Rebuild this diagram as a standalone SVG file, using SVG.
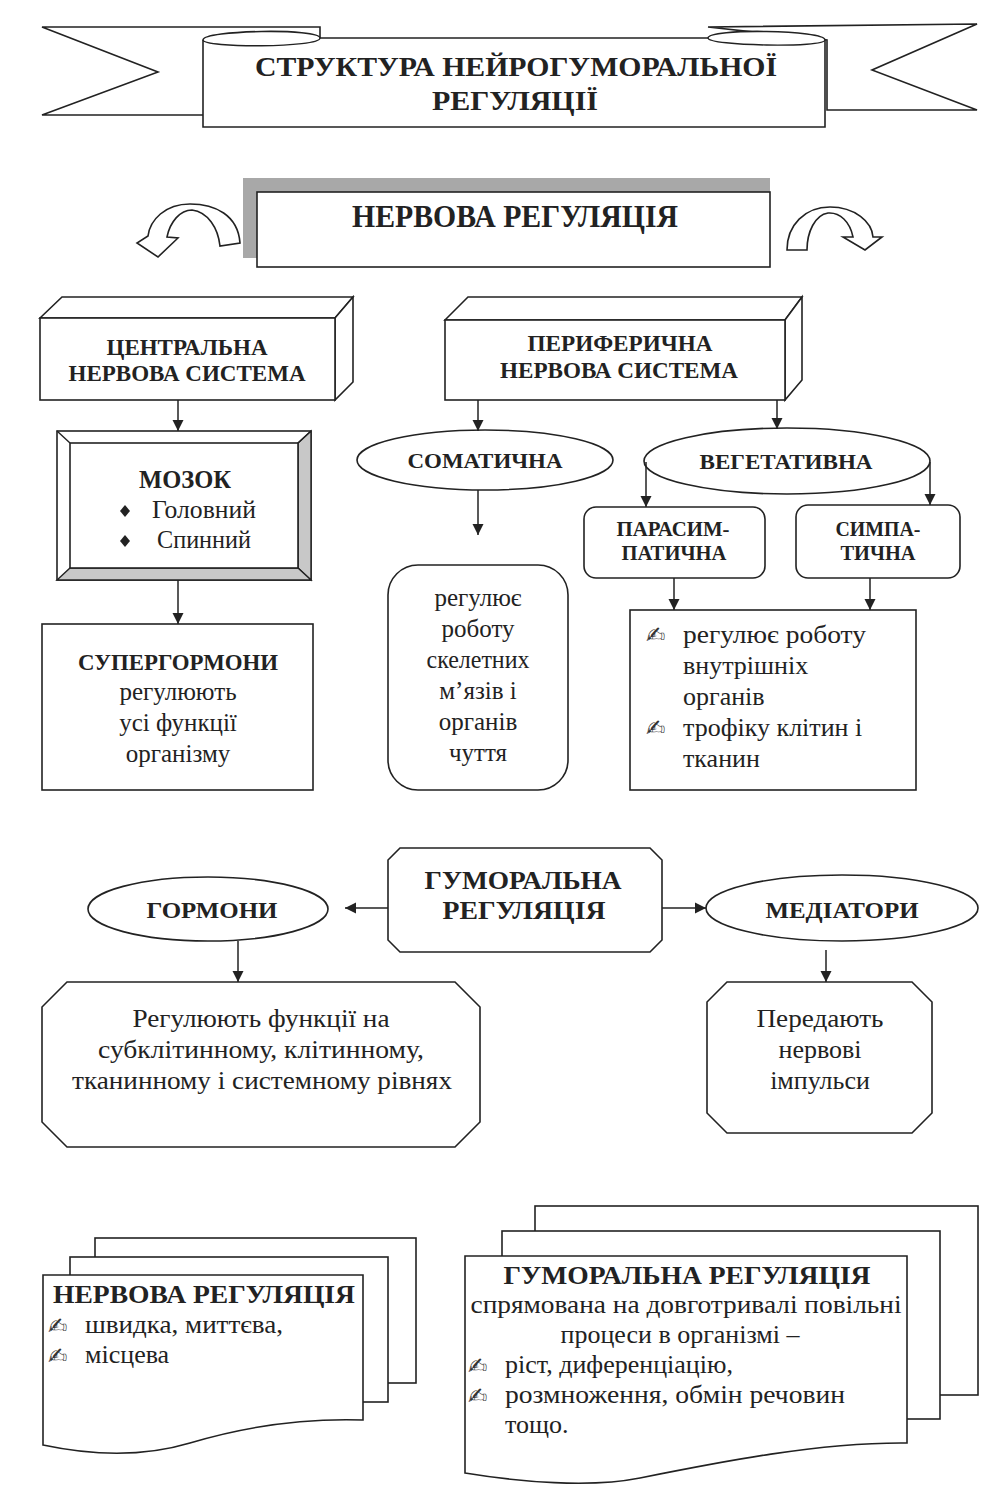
<svg xmlns="http://www.w3.org/2000/svg" width="1000" height="1497" viewBox="0 0 1000 1497">
<defs>
<style>
.s{fill:#fff;stroke:#222;stroke-width:1.6}
.g{fill:#c8c8c8;stroke:#222;stroke-width:1.4}
.t{font-family:"Liberation Serif","Times New Roman",serif;fill:#222}
.b{font-weight:bold}
.c{text-anchor:middle}
.h{font-family:"DejaVu Sans",sans-serif;fill:#333;font-size:23px}
.ln{stroke:#222;stroke-width:1.5;fill:none;marker-end:url(#ah)}
</style>
<marker id="ah" viewBox="0 0 10 10" markerUnits="userSpaceOnUse" markerWidth="11" markerHeight="13" refX="10" refY="5" orient="auto">
<path d="M0,0 L10,5 L0,10 z" fill="#222"/>
</marker>
</defs>
<rect width="1000" height="1497" fill="#fff"/>

<g id="title">
<path class="s" d="M42,27 L320,27 L320,115 L42,115 L158,72 Z"/>
<path class="s" d="M708,27 L977,24 L872,70 L977,110 L827,110 L827,40 Z"/>
<path class="s" d="M203,40 C203,30 320,28 320,38 L708,38 C708,28 825,30 825,40 L825,127 L203,127 Z"/>
<path d="M203,40 C203,48 320,48 320,38 M708,38 C708,46 825,48 825,40" fill="none" stroke="#222" stroke-width="1.4"/>
<text class="t b c" x="516" y="76" font-size="28" textLength="522" lengthAdjust="spacingAndGlyphs">СТРУКТУРА НЕЙРОГУМОРАЛЬНОЇ</text>
<text class="t b c" x="515" y="110" font-size="28" textLength="166" lengthAdjust="spacingAndGlyphs">РЕГУЛЯЦІЇ</text>
</g>

<g id="nervova">
<path d="M243,178 L770,178 L770,192 L257,192 L257,258 L243,258 Z" fill="#a8a8a8"/>
<rect class="s" x="257" y="192" width="513" height="75"/>
<text class="t b c" x="515" y="227" font-size="31" textLength="326" lengthAdjust="spacingAndGlyphs">НЕРВОВА РЕГУЛЯЦІЯ</text>
</g>

<g id="arrow-left">
<path class="s" d="M240,243 C238,215 215,204 190,204 C165,204 150,220 148,236 L137,243 L158,257 L178,238 L167,237 C170,222 180,210 192,210 C208,212 218,228 220,246 Z"/>
</g>
<g id="arrow-right">
<path class="s" d="M787,250 C787,225 805,207 830,207 C855,207 872,222 873,237 L882,237 L865,250 L843,237 L853,237 C850,222 840,212 828,213 C815,215 807,232 807,250 Z"/>
</g>

<g id="cns">
<path class="s" d="M40,318 L62,297 L353,297 L335,318 Z"/>
<path class="s" d="M335,318 L353,297 L353,382 L335,400 Z"/>
<rect class="s" x="40" y="318" width="295" height="82"/>
<text class="t b c" x="187" y="355" font-size="23" textLength="161" lengthAdjust="spacingAndGlyphs">ЦЕНТРАЛЬНА</text>
<text class="t b c" x="187" y="381" font-size="23" textLength="237" lengthAdjust="spacingAndGlyphs">НЕРВОВА СИСТЕМА</text>
</g>

<g id="mozok">
<rect class="s" x="57" y="431" width="254" height="149"/>
<path class="g" d="M298,443 L311,431 L311,580 L298,568 Z"/>
<path class="g" d="M70,568 L298,568 L311,580 L57,580 Z"/>
<path d="M57,431 L70,443 M311,431 L298,443" stroke="#222" stroke-width="1.4"/>
<rect class="s" x="70" y="443" width="228" height="125"/>
<text class="t b c" x="185" y="488" font-size="25" textLength="92" lengthAdjust="spacingAndGlyphs">МОЗОК</text>
<path d="M125,505 L130,511 L125,517 L120,511 Z" fill="#222"/>
<text class="t" x="152" y="518" font-size="25" textLength="104" lengthAdjust="spacingAndGlyphs">Головний</text>
<path d="M125,535 L130,541 L125,547 L120,541 Z" fill="#222"/>
<text class="t" x="157" y="548" font-size="25" textLength="94" lengthAdjust="spacingAndGlyphs">Спинний</text>
</g>

<g id="supergormony">
<rect class="s" x="42" y="624" width="271" height="166"/>
<text class="t b c" x="178" y="670" font-size="23" textLength="200" lengthAdjust="spacingAndGlyphs">СУПЕРГОРМОНИ</text>
<text class="t c" x="178" y="700" font-size="25">регулюють</text>
<text class="t c" x="178" y="731" font-size="25">усі функції</text>
<text class="t c" x="178" y="762" font-size="25">організму</text>
</g>

<g id="pns">
<path class="s" d="M445,320 L468,297 L802,297 L785,320 Z"/>
<path class="s" d="M785,320 L802,297 L802,380 L785,400 Z"/>
<rect class="s" x="445" y="320" width="340" height="80"/>
<text class="t b c" x="620" y="351" font-size="23" textLength="185" lengthAdjust="spacingAndGlyphs">ПЕРИФЕРИЧНА</text>
<text class="t b c" x="619" y="378" font-size="23" textLength="238" lengthAdjust="spacingAndGlyphs">НЕРВОВА СИСТЕМА</text>
</g>

<g id="somatychna">
<ellipse class="s" cx="485" cy="460" rx="128" ry="30"/>
<text class="t b c" x="485" y="468" font-size="22" textLength="155" lengthAdjust="spacingAndGlyphs">СОМАТИЧНА</text>
</g>

<g id="vegetatyvna">
<ellipse class="s" cx="787" cy="461" rx="143" ry="33"/>
<text class="t b c" x="786" y="469" font-size="22" textLength="173" lengthAdjust="spacingAndGlyphs">ВЕГЕТАТИВНА</text>
</g>

<g id="soma-box">
<rect class="s" x="388" y="565" width="180" height="225" rx="30"/>
<text class="t c" x="478" y="606" font-size="25">регулює</text>
<text class="t c" x="478" y="637" font-size="25">роботу</text>
<text class="t c" x="478" y="668" font-size="25" textLength="103" lengthAdjust="spacingAndGlyphs">скелетних</text>
<text class="t c" x="478" y="699" font-size="25">м’язів і</text>
<text class="t c" x="478" y="730" font-size="25">органів</text>
<text class="t c" x="478" y="761" font-size="25">чуття</text>
</g>

<g id="parasym">
<rect class="s" x="584" y="507" width="181" height="71" rx="12"/>
<text class="t b c" x="673" y="536" font-size="20" textLength="113" lengthAdjust="spacingAndGlyphs">ПАРАСИМ-</text>
<text class="t b c" x="674" y="560" font-size="20" textLength="105" lengthAdjust="spacingAndGlyphs">ПАТИЧНА</text>
</g>

<g id="sympa">
<rect class="s" x="796" y="505" width="164" height="73" rx="12"/>
<text class="t b c" x="878" y="536" font-size="20" textLength="85" lengthAdjust="spacingAndGlyphs">СИМПА-</text>
<text class="t b c" x="878" y="560" font-size="20" textLength="75" lengthAdjust="spacingAndGlyphs">ТИЧНА</text>
</g>

<g id="veget-box">
<rect class="s" x="630" y="610" width="286" height="180"/>
<text class="h" x="646" y="643">✍</text>
<text class="t" x="683" y="643" font-size="26" textLength="183" lengthAdjust="spacingAndGlyphs">регулює роботу</text>
<text class="t" x="683" y="674" font-size="26">внутрішніх</text>
<text class="t" x="683" y="705" font-size="26">органів</text>
<text class="h" x="646" y="736">✍</text>
<text class="t" x="683" y="736" font-size="26">трофіку клітин і</text>
<text class="t" x="683" y="767" font-size="26">тканин</text>
</g>

<g id="humoral">
<path class="s" d="M400,848 L650,848 L662,860 L662,940 L650,952 L400,952 L388,940 L388,860 Z"/>
<text class="t b c" x="523" y="889" font-size="26" textLength="197" lengthAdjust="spacingAndGlyphs">ГУМОРАЛЬНА</text>
<text class="t b c" x="524" y="919" font-size="26" textLength="163" lengthAdjust="spacingAndGlyphs">РЕГУЛЯЦІЯ</text>
</g>

<g id="gormony">
<ellipse class="s" cx="208" cy="909" rx="120" ry="32"/>
<text class="t b c" x="212" y="918" font-size="24" textLength="131" lengthAdjust="spacingAndGlyphs">ГОРМОНИ</text>
</g>

<g id="mediatory">
<ellipse class="s" cx="842" cy="908" rx="136" ry="33"/>
<text class="t b c" x="842" y="918" font-size="24" textLength="153" lengthAdjust="spacingAndGlyphs">МЕДІАТОРИ</text>
</g>

<g id="gormony-box">
<path class="s" d="M67,982 L455,982 L480,1007 L480,1122 L455,1147 L67,1147 L42,1122 L42,1007 Z"/>
<text class="t c" x="261" y="1027" font-size="26" textLength="257" lengthAdjust="spacingAndGlyphs">Регулюють функції на</text>
<text class="t c" x="261" y="1058" font-size="26" textLength="326" lengthAdjust="spacingAndGlyphs">субклітинному, клітинному,</text>
<text class="t c" x="262" y="1089" font-size="26" textLength="380" lengthAdjust="spacingAndGlyphs">тканинному і системному рівнях</text>
</g>

<g id="mediatory-box">
<path class="s" d="M727,982 L912,982 L932,1002 L932,1113 L912,1133 L727,1133 L707,1113 L707,1002 Z"/>
<text class="t c" x="820" y="1027" font-size="26" textLength="127" lengthAdjust="spacingAndGlyphs">Передають</text>
<text class="t c" x="820" y="1058" font-size="26">нервові</text>
<text class="t c" x="820" y="1089" font-size="26">імпульси</text>
</g>

<g id="nervova-doc">
<rect class="s" x="95" y="1238" width="321" height="145"/>
<rect class="s" x="70" y="1257" width="318" height="145"/>
<path class="s" d="M43,1275 L363,1275 L363,1420 C300,1418 240,1428 190,1443 C140,1458 90,1455 43,1445 Z"/>
<text class="t b c" x="204" y="1303" font-size="26" textLength="302" lengthAdjust="spacingAndGlyphs">НЕРВОВА РЕГУЛЯЦІЯ</text>
<text class="h" x="48" y="1334">✍</text>
<text class="t" x="85" y="1333" font-size="26" textLength="198" lengthAdjust="spacingAndGlyphs">швидка, миттєва,</text>
<text class="h" x="48" y="1364">✍</text>
<text class="t" x="85" y="1363" font-size="26">місцева</text>
</g>

<g id="humoral-doc">
<rect class="s" x="535" y="1206" width="443" height="189"/>
<rect class="s" x="502" y="1231" width="438" height="188"/>
<path class="s" d="M465,1256 L907,1256 L907,1443 C820,1442 720,1462 640,1478 C590,1488 520,1482 465,1473 Z"/>
<text class="t b c" x="687" y="1284" font-size="26" textLength="367" lengthAdjust="spacingAndGlyphs">ГУМОРАЛЬНА РЕГУЛЯЦІЯ</text>
<text class="t c" x="686" y="1313" font-size="26" textLength="431" lengthAdjust="spacingAndGlyphs">спрямована на довготривалі повільні</text>
<text class="t c" x="680" y="1343" font-size="26" textLength="239" lengthAdjust="spacingAndGlyphs">процеси в організмі –</text>
<text class="h" x="468" y="1374">✍</text>
<text class="t" x="505" y="1373" font-size="26">ріст, диференціацію,</text>
<text class="h" x="468" y="1404">✍</text>
<text class="t" x="505" y="1403" font-size="26" textLength="340" lengthAdjust="spacingAndGlyphs">розмноження, обмін речовин</text>
<text class="t" x="505" y="1433" font-size="26">тощо.</text>
</g>

<g id="connectors">
<line class="ln" x1="178" y1="400" x2="178" y2="431"/>
<line class="ln" x1="178" y1="580" x2="178" y2="624"/>
<line class="ln" x1="478" y1="400" x2="478" y2="431"/>
<line class="ln" x1="777" y1="400" x2="777" y2="429"/>
<line class="ln" x1="478" y1="490" x2="478" y2="535"/>
<line class="ln" x1="646" y1="462" x2="646" y2="507"/>
<line class="ln" x1="930" y1="462" x2="930" y2="505"/>
<line class="ln" x1="674" y1="578" x2="674" y2="610"/>
<line class="ln" x1="870" y1="578" x2="870" y2="610"/>
<line class="ln" x1="388" y1="908" x2="345" y2="908"/>
<line class="ln" x1="662" y1="908" x2="706" y2="908"/>
<line class="ln" x1="238" y1="941" x2="238" y2="982"/>
<line class="ln" x1="826" y1="950" x2="826" y2="982"/>
</g>
</svg>
